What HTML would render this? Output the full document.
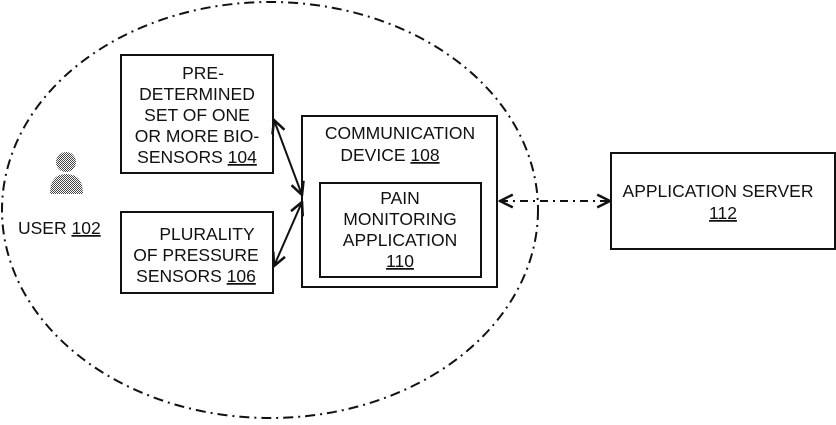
<!DOCTYPE html>
<html><head><style>
body{margin:0;background:#fff}
svg text{font-family:"Liberation Sans",sans-serif;font-size:17.5px;fill:#111}
</style></head><body>
<svg width="836" height="420" viewBox="0 0 836 420" xmlns="http://www.w3.org/2000/svg">
<defs>
<marker id="a" viewBox="0 0 10 10" refX="9" refY="5" markerWidth="8" markerHeight="8" orient="auto-start-reverse"><path d="M1,1 L9,5 L1,9" fill="none" stroke="#111" stroke-width="1.6"/></marker>
<pattern id="d" width="2" height="2" patternUnits="userSpaceOnUse"><rect width="1" height="1" fill="#444"/><rect x="1" y="1" width="1" height="1" fill="#444"/></pattern>
</defs>
<ellipse cx="270" cy="210" rx="268" ry="208" fill="none" stroke="#111" stroke-width="2" stroke-dasharray="10,5,2,5"/>
<circle cx="66" cy="162" r="10" fill="url(#d)"/>
<path d="M50,194 Q50,174 66,174 Q83,174 83,194 Z" fill="url(#d)"/>
<text x="18" y="234">USER <tspan text-decoration="underline">102</tspan></text>
<rect x="121" y="55" width="152" height="118" fill="none" stroke="#111" stroke-width="2"/>
<text text-anchor="middle"><tspan x="203" y="79">PRE-</tspan><tspan x="197" y="100">DETERMINED</tspan><tspan x="197" y="121">SET OF ONE</tspan><tspan x="197" y="142">OR MORE BIO-</tspan><tspan x="197" y="163">SENSORS <tspan text-decoration="underline">104</tspan></tspan></text>
<rect x="121" y="212" width="152" height="81" fill="none" stroke="#111" stroke-width="2"/>
<text text-anchor="middle"><tspan x="207" y="240">PLURALITY</tspan><tspan x="196" y="261">OF PRESSURE</tspan><tspan x="196" y="282">SENSORS <tspan text-decoration="underline">106</tspan></tspan></text>
<rect x="302" y="116" width="195" height="171" fill="none" stroke="#111" stroke-width="2"/>
<text text-anchor="middle"><tspan x="400" y="139">COMMUNICATION</tspan><tspan x="390" y="161">DEVICE <tspan text-decoration="underline">108</tspan></tspan></text>
<rect x="320" y="183" width="161" height="94" fill="none" stroke="#111" stroke-width="2"/>
<text text-anchor="middle"><tspan x="400" y="204">PAIN</tspan><tspan x="400" y="225">MONITORING</tspan><tspan x="400" y="246">APPLICATION</tspan><tspan x="400" y="267" text-decoration="underline">110</tspan></text>
<rect x="611" y="153" width="224" height="96" fill="none" stroke="#111" stroke-width="2"/>
<text text-anchor="middle"><tspan x="718" y="197">APPLICATION  SERVER</tspan><tspan x="723" y="219" text-decoration="underline">112</tspan></text>
<line x1="274" y1="120" x2="302" y2="195" stroke="#111" stroke-width="2" marker-start="url(#a)" marker-end="url(#a)"/>
<line x1="274" y1="266" x2="302" y2="202" stroke="#111" stroke-width="2" marker-start="url(#a)" marker-end="url(#a)"/>
<line x1="500" y1="201" x2="610" y2="201" stroke="#111" stroke-width="2" stroke-dasharray="8,5,2,5" marker-start="url(#a)" marker-end="url(#a)"/>
</svg>
</body></html>
